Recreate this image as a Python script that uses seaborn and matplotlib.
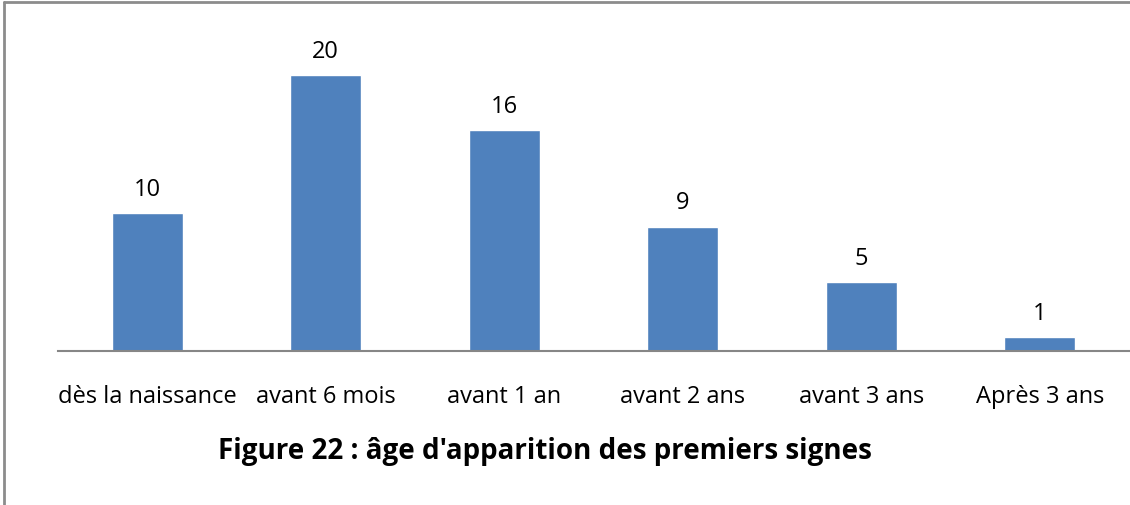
import matplotlib
matplotlib.use("Agg")
import matplotlib.pyplot as plt
from matplotlib.lines import Line2D
import pandas as pd
import seaborn as sns

categories = ["dès la naissance", "avant 6 mois", "avant 1 an",
              "avant 2 ans", "avant 3 ans", "Après 3 ans"]
values = [10, 20, 16, 9, 5, 1]
title = "Figure 22 : âge d'apparition des premiers signes"

sns.set_style("white")
plt.rcParams["font.family"] = ["Open Sans", "DejaVu Sans"]

df = pd.DataFrame({"cat": categories, "val": values})

fig = plt.figure(figsize=(11.3, 5.06), dpi=100)
ax = fig.add_axes([58 / 1130, 154 / 506, 1071 / 1130, 303.6 / 506])

sns.barplot(data=df, x="cat", y="val", color="#4F81BD", width=0.4,
            saturation=1, ax=ax)
ax.set_ylim(0, 22)
ax.set_xlim(-0.5, len(categories) - 0.5)

for i, v in enumerate(values):
    ax.text(i, v + 0.9, str(v), ha="center", va="bottom", fontsize=17,
            color="#000000", clip_on=False)

ax.set_xlabel("")
ax.set_ylabel("")
ax.set_yticks([])
ax.tick_params(axis="x", length=0, pad=24, labelsize=17,
               labelcolor="#000000")
for s in ["top", "right", "left"]:
    ax.spines[s].set_visible(False)
ax.spines["bottom"].set_color("#868686")
ax.spines["bottom"].set_linewidth(1.5)

fig.text(545 / 1130, 1 - 452 / 506, title, ha="center", va="center",
         fontsize=20, fontweight="bold", color="#000000")

# cadre gris (gauche et haut)
fig.add_artist(Line2D([4 / 1130, 4 / 1130], [0, 1 - 3 / 506],
                      color="#8c8c8c", lw=2))
fig.add_artist(Line2D([4 / 1130, 1], [1 - 3 / 506, 1 - 3 / 506],
                      color="#8c8c8c", lw=2))

fig.savefig("out.png", dpi=100)
